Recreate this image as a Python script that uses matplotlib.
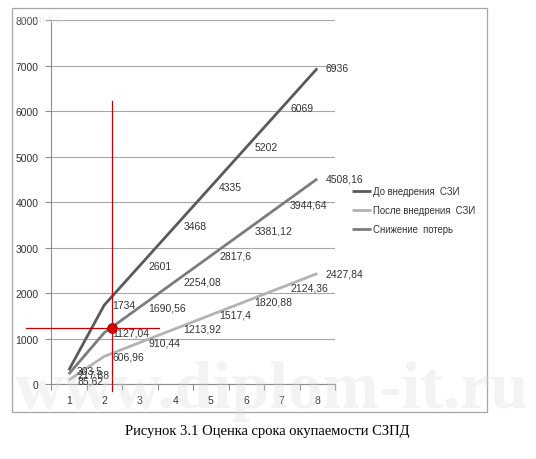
import matplotlib
matplotlib.use("Agg")
import matplotlib.pyplot as plt
from matplotlib.patches import Rectangle

# ---- data ----
periods = [1, 2, 3, 4, 5, 6, 7, 8]
before = [303.5, 1734, 2601, 3468, 4335, 5202, 6069, 6936]
after = [85.62, 606.96, 910.44, 1213.92, 1517.4, 1820.88, 2124.36, 2427.84]
reduction = [217.88, 1127.04, 1690.56, 2254.08, 2817.6, 3381.12, 3944.64, 4508.16]
series_names = ["До внедрения  СЗИ", "После внедрения  СЗИ", "Снижение  потерь"]
payback_x = 2.21
payback_y = 1235
caption = "Рисунок 3.1 Оценка срока окупаемости СЗПД"

W, H = 536, 460
fig = plt.figure(figsize=(W / 100, H / 100), dpi=100)
fig.patch.set_facecolor("white")

# outer chart frame
fig.patches.append(Rectangle((12 / W, 1 - 413 / H), (487 - 12) / W, (413 - 9) / H,
                             transform=fig.transFigure, fill=False,
                             edgecolor="#a6a6a6", linewidth=0.9, zorder=0))

ax = fig.add_axes([51 / W, 1 - 385 / H, (335 - 51) / W, (385 - 21) / H])
ax.set_xlim(0.5, 8.5)
ax.set_ylim(0, 8000)
ax.set_yticks(range(0, 8001, 1000))
ax.grid(axis="y", color="#a6a6a6", linewidth=0.8)
ax.set_axisbelow(True)
for s in ["top", "right"]:
    ax.spines[s].set_visible(False)
for s in ["left", "bottom"]:
    ax.spines[s].set_color("#8c8c8c")
    ax.spines[s].set_linewidth(0.8)

ax.set_xticks([i + 0.5 for i in range(0, 9)])
ax.set_xticklabels([])
ax.set_xticks(periods, minor=True)
ax.set_xticklabels([str(p) for p in periods], minor=True)
ax.tick_params(axis="x", which="major", length=4, color="#8c8c8c")
ax.tick_params(axis="x", which="minor", length=0, pad=8)
ax.tick_params(axis="y", length=4, color="#8c8c8c", pad=5)
for lbl in ax.get_xticklabels(minor=True) + ax.get_yticklabels():
    lbl.set_fontfamily("Liberation Sans")
    lbl.set_fontsize(7.5)
    lbl.set_color("#333333")

colors = ["#5a5a5a", "#b3b3b3", "#7c7c7c"]
data = [before, after, reduction]
for vals, name, c in zip(data, series_names, colors):
    ax.plot(periods, vals, color=c, linewidth=2.0, label=name, solid_capstyle="butt")

def fmt(v):
    s = ("%.2f" % v).rstrip("0").rstrip(".")
    return s.replace(".", ",")

for vals in data:
    for x, v in zip(periods, vals):
        ax.annotate(fmt(v), (x, v), xytext=(6, 0), textcoords="offset points",
                    ha="left", va="center", fontsize=7.5,
                    family="Liberation Sans", color="#333333")

# payback annotation (red cross-hair)
ax.plot([payback_x, payback_x], [-150, 6220], color="#c00000", linewidth=0.9, clip_on=False, zorder=4)
ax.plot([-0.21, 3.53], [payback_y, payback_y], color="#c00000", linewidth=0.9, clip_on=False, zorder=4)
ax.plot([payback_x], [payback_y], marker="o", markersize=7, markerfacecolor="#e00000",
        markeredgecolor="#800000", markeredgewidth=0.6, clip_on=False, zorder=5)

leg = fig.legend(loc="center left", bbox_to_anchor=(352 / W, 1 - 211 / H),
                 frameon=False, handlelength=2.0, handletextpad=0.2,
                 labelspacing=0.95, borderpad=0, borderaxespad=0,
                 prop={"family": "Liberation Sans", "size": 6.9})
for t in leg.get_texts():
    t.set_color("#333333")

fig.text(267 / W, 1 - 432 / H, caption, ha="center", va="center",
         fontsize=10.5, family="Liberation Serif", color="black")

# faint watermarks
fig.text(272 / W, 1 - 392 / H, "www.diplom-it.ru", ha="center", va="center",
         fontsize=49, family="Liberation Serif", fontweight="bold",
         color="#d8d8d8", alpha=0.3, zorder=10)
fig.text(17 / W, 1 - 20 / H, "diplom-it.ru", ha="left", va="center",
         fontsize=7, family="Liberation Sans", color="#e0e0e0", alpha=0.6)

fig.savefig("out.png", dpi=100, facecolor="white")
